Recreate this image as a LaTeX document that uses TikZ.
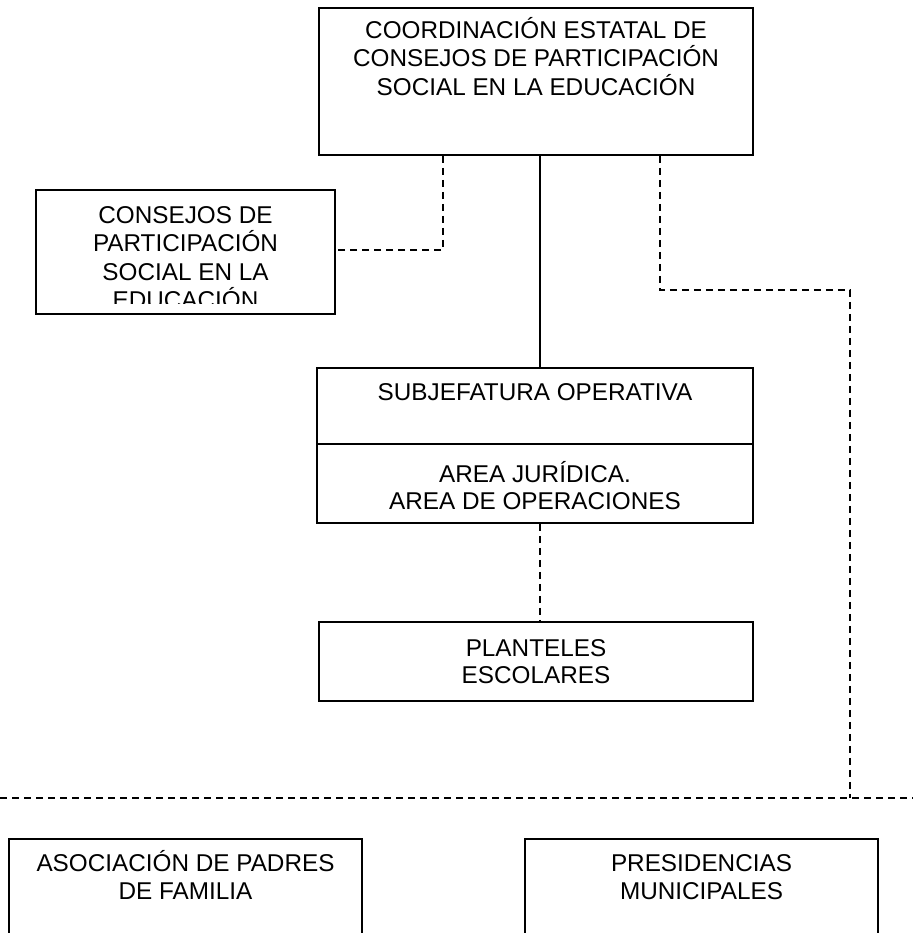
\documentclass[tikz,border=0pt]{standalone}
\usepackage{fontspec}
\setmainfont{Liberation Sans}
\begin{document}
\begin{tikzpicture}[x=1pt,y=-1pt,
  box/.style={draw, line width=1.9pt, inner sep=0pt},
  lbl/.style={align=center, inner sep=0pt, font=\fontsize{24.3}{28.5}\selectfont},
  dsh/.style={line width=1.5pt, dash pattern=on 7pt off 5pt},
  sol/.style={line width=1.9pt}]
\path[use as bounding box] (0,0) rectangle (913,933);
\clip (0,0) rectangle (913,933);
% boxes
\node[box, minimum width=434pt, minimum height=147pt] (coord) at (536,81.5) {};
\node[lbl, anchor=base] (coordT) at (536,95.4) {COORDINACIÓN ESTATAL DE\\CONSEJOS DE PARTICIPACIÓN\\SOCIAL EN LA EDUCACIÓN};
\node[box, minimum width=299pt, minimum height=124pt] (cons) at (185.5,252) {};
\begin{scope}
  \clip (36,190) rectangle (335,303);
  \node[lbl, anchor=base] (consT) at (185.5,308.9) {CONSEJOS DE\\PARTICIPACIÓN\\SOCIAL EN LA\\EDUCACIÓN};
\end{scope}
\node[box, minimum width=436pt, minimum height=155pt] (sub) at (535,445.5) {};
\coordinate (dv) at (535,444);
\draw[sol] (sub.west |- dv) -- (sub.east |- dv);
\node[lbl, anchor=base] (subT) at (535,400.4) {SUBJEFATURA OPERATIVA};
\node[lbl, anchor=base, font=\fontsize{24.3}{27}\selectfont] (areaT) at (535,509.4) {AREA JURÍDICA.\\AREA DE OPERACIONES};
\node[box, minimum width=434pt, minimum height=79pt] (plan) at (536,661.5) {};
\node[lbl, anchor=base, font=\fontsize{24.3}{27}\selectfont] (planT) at (536,683.4) {PLANTELES\\ESCOLARES};
\node[box, minimum width=353pt, minimum height=130pt, anchor=north] (apf) at (185.5,838) {};
\node[lbl, anchor=base] (apfT) at (185.5,899.9) {ASOCIACIÓN DE PADRES\\DE FAMILIA};
\node[box, minimum width=353pt, minimum height=130pt, anchor=north] (pm) at (701.5,838) {};
\node[lbl, anchor=base] (pmT) at (701.5,899.9) {PRESIDENCIAS\\MUNICIPALES};
% connectors
\coordinate (mx) at (540,0);
\draw[sol] (coord.south -| mx) -- (sub.north -| mx);
\draw[dsh] (sub.south -| mx) -- (plan.north -| mx);
\coordinate (lb) at (443,250);
\draw[dsh] (coord.south -| lb) -- (lb) -- (cons.east |- lb);
\coordinate (rb1) at (660,290);
\coordinate (rb2) at (850,290);
\coordinate (rb3) at (850,798);
\draw[dsh] (coord.south -| rb1) -- (rb1) -- (rb2) -- (rb3);
\coordinate (hl) at (0,798);
\coordinate (hr) at (913,798);
\draw[dsh] (hl) -- (hr);
\end{tikzpicture}
\end{document}
